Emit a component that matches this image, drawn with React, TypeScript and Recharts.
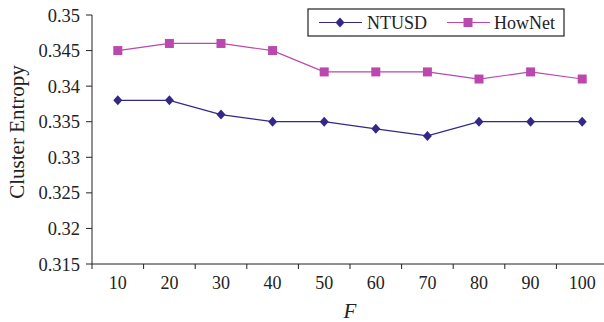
import { LineChart, Line, XAxis, YAxis } from 'recharts';

const fValues = ['10', '20', '30', '40', '50', '60', '70', '80', '90', '100'];
const ntusd = [0.338, 0.338, 0.336, 0.335, 0.335, 0.334, 0.333, 0.335, 0.335, 0.335];
const hownet = [0.345, 0.346, 0.346, 0.345, 0.342, 0.342, 0.342, 0.341, 0.342, 0.341];
const yTicks = [0.315, 0.32, 0.325, 0.33, 0.335, 0.34, 0.345, 0.35];

const data = fValues.map((f, i) => ({ f, ntusd: ntusd[i], hownet: hownet[i] }));

const NAVY = '#33278a';
const PINK = '#bb48ae';
const FONT = '"Liberation Serif", "Times New Roman", serif';
const HALF_BAND = 25.8;

const Diamond = (props: any) => {
  const { cx, cy } = props;
  if (cx == null || cy == null) return null;
  return <path d={`M${cx},${cy - 5} L${cx + 4.5},${cy} L${cx},${cy + 5} L${cx - 4.5},${cy} Z`} fill={NAVY} />;
};

const Square = (props: any) => {
  const { cx, cy } = props;
  if (cx == null || cy == null) return null;
  return <rect x={cx - 4.5} y={cy - 4.5} width={9} height={9} fill={PINK} />;
};

// x ticks sit on the band edges, labels in the band centres
const XTick = (props: any) => {
  const { x, y, payload } = props;
  return (
    <g>
      <line x1={x - HALF_BAND} y1={y - 8} x2={x - HALF_BAND} y2={y - 3} stroke="#222" strokeWidth={1} />
      <text x={x} y={y + 17} textAnchor="middle" fontFamily={FONT} fontSize={18} fill="#222">
        {payload.value}
      </text>
    </g>
  );
};

const YTitle = () => (
  <text
    x={17}
    y={132}
    transform="rotate(-90 17 132)"
    textAnchor="middle"
    dominantBaseline="central"
    fontFamily={FONT}
    fontSize={21}
    fill="#222"
  >
    Cluster Entropy
  </text>
);

const LegendBox = () => (
  <svg width={258} height={29} style={{ position: 'absolute', left: 307, top: 8 }}>
    <rect x={1} y={1} width={256} height={27} fill="white" stroke="#222" strokeWidth={1.2} />
    <line x1={12} y1={14.5} x2={55} y2={14.5} stroke={NAVY} strokeWidth={1.2} />
    <path d="M33,9.5 L37.5,14.5 L33,19.5 L28.5,14.5 Z" fill={NAVY} />
    <line x1={140} y1={14.5} x2={183} y2={14.5} stroke={PINK} strokeWidth={1.2} />
    <rect x={156.5} y={10} width={9} height={9} fill={PINK} />
    <text x={60} y={20.5} fontFamily={FONT} fontSize={18} fill="#222">NTUSD</text>
    <text x={187} y={20.5} fontFamily={FONT} fontSize={18} fill="#222">HowNet</text>
  </svg>
);

export default function App() {
  return (
    <div style={{ position: 'absolute', left: 0, top: 0, width: 604, height: 322, overflow: 'hidden', background: 'white' }}>
      <LineChart width={612} height={322} data={data} margin={{ top: 15, right: 4, left: 0, bottom: 0 }}>
        <XAxis
          dataKey="f"
          height={58}
          padding={{ left: HALF_BAND, right: HALF_BAND }}
          tick={<XTick />}
          tickLine={false}
          axisLine={{ stroke: '#222' }}
          interval={0}
          label={{ value: 'F', position: 'insideBottom', offset: 4, style: { fontFamily: FONT, fontSize: 21, fontStyle: 'italic', fill: '#222' } }}
        />
        <YAxis
          width={92}
          domain={[0.315, 0.35]}
          ticks={yTicks}
          tickFormatter={(v: number) => String(Number(v.toFixed(3)))}
          tick={{ fontFamily: FONT, fontSize: 18.5, fill: '#222' }}
          tickSize={6}
          tickMargin={6}
          tickLine={{ stroke: '#222' }}
          axisLine={{ stroke: '#222' }}
          label={<YTitle />}
        />
        <Line dataKey="ntusd" name="NTUSD" stroke={NAVY} strokeWidth={1.2} dot={<Diamond />} isAnimationActive={false} />
        <Line dataKey="hownet" name="HowNet" stroke={PINK} strokeWidth={1.2} dot={<Square />} isAnimationActive={false} />
      </LineChart>
      <LegendBox />
    </div>
  );
}
